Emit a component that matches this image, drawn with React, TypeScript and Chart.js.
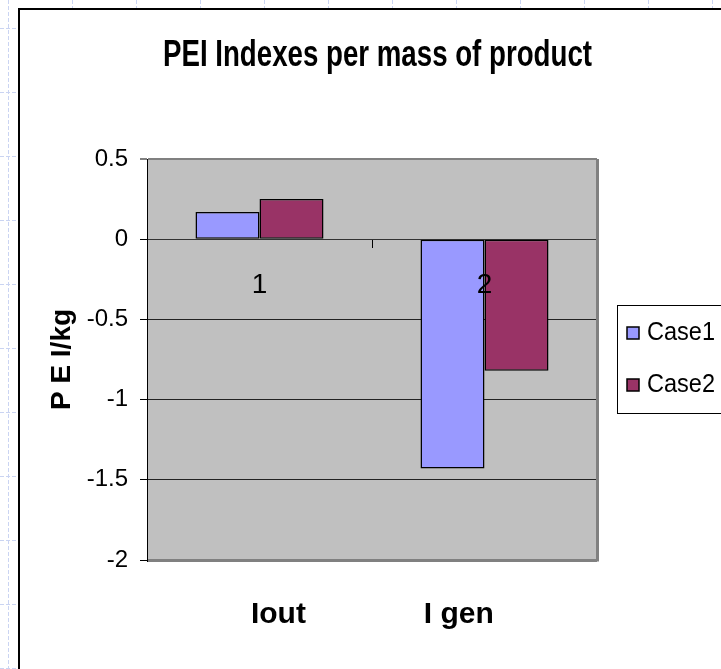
import React, { useEffect, useRef } from 'react';
import { Chart, registerables } from 'chart.js';

Chart.register(...registerables);

// ---- data ----
const CATEGORIES = ['1', '2'];
const INDEX_LABELS = ['Iout', 'I gen'];
const SERIES_NAMES = ['Case1', 'Case2'];
const CASE1 = [0.17, -1.43];
const CASE2 = [0.25, -0.82];
const Y_MIN = -2;
const Y_MAX = 0.5;
const Y_STEP = 0.5;
const TITLE = 'PEI Indexes per mass of product';
const Y_TITLE = 'P E I/kg';

// ---- styles ----
const FONT = '"Liberation Sans", Arial, sans-serif';
const COLORS = ['#9999ff', '#993366'];
const INDEX_LABEL_POS = [0.292, 0.693]; // fraction across the plot area

const decor = {
  id: 'decor',
  afterLayout(chart: any) {
    // narrow the title box so the title text is condensed like the original
    const t = chart.titleBlock;
    if (t) {
      t.left = 163;
      t.right = 592;
      t.width = 429;
    }
  },
  beforeDraw(chart: any) {
    const { ctx, width, height, chartArea: a } = chart;
    ctx.save();
    ctx.fillStyle = '#ffffff';
    ctx.fillRect(0, 0, width, height);
    // slide background grid
    ctx.strokeStyle = '#cad4f2';
    ctx.lineWidth = 1;
    ctx.setLineDash([4, 2]);
    for (let x = 8.5; x < width; x += 64) {
      ctx.beginPath();
      ctx.moveTo(x, 0);
      ctx.lineTo(x, height);
      ctx.stroke();
    }
    for (let y = 28.5; y < height; y += 64) {
      ctx.beginPath();
      ctx.moveTo(0, y);
      ctx.lineTo(width, y);
      ctx.stroke();
    }
    ctx.setLineDash([]);
    // chart frame
    ctx.fillStyle = '#ffffff';
    ctx.fillRect(19, 9, width, height);
    ctx.strokeStyle = '#000000';
    ctx.lineWidth = 2;
    ctx.beginPath();
    ctx.moveTo(19, height + 2);
    ctx.lineTo(19, 9);
    ctx.lineTo(width + 2, 9);
    ctx.stroke();
    // plot area
    ctx.fillStyle = '#c0c0c0';
    ctx.fillRect(a.left, a.top, a.right - a.left, a.bottom - a.top);
    ctx.restore();
  },
  afterDraw(chart: any) {
    const { ctx, chartArea: a } = chart;
    ctx.save();
    // right plot border
    ctx.strokeStyle = '#808080';
    ctx.lineWidth = 3;
    ctx.beginPath();
    ctx.moveTo(a.right + 0.5, a.top);
    ctx.lineTo(a.right + 0.5, a.bottom + 1.5);
    ctx.stroke();
    // legend
    const lx = 617.5;
    const ly = 305.5;
    ctx.fillStyle = '#ffffff';
    ctx.fillRect(lx, ly, 140, 108);
    ctx.strokeStyle = '#000000';
    ctx.lineWidth = 1;
    ctx.strokeRect(lx, ly, 140, 108);
    chart.data.datasets.forEach((ds: any, i: number) => {
      const cy = 333 + i * 52;
      ctx.fillStyle = ds.backgroundColor;
      ctx.fillRect(627, cy - 6, 12, 12);
      ctx.strokeStyle = '#000000';
      ctx.lineWidth = 1.5;
      ctx.strokeRect(627, cy - 6, 12, 12);
      ctx.fillStyle = '#000000';
      ctx.font = `25px ${FONT}`;
      ctx.textBaseline = 'middle';
      ctx.textAlign = 'left';
      ctx.fillText(ds.label, 647, cy, 68);
    });
    ctx.restore();
  },
};

export default function App() {
  const ref = useRef<HTMLCanvasElement | null>(null);

  useEffect(() => {
    if (!ref.current) return;
    const chart = new Chart(ref.current, {
      type: 'bar',
      data: {
        labels: CATEGORIES,
        datasets: [
          {
            label: SERIES_NAMES[0],
            data: CASE1,
            backgroundColor: COLORS[0],
            borderColor: '#000000',
            borderWidth: 1.5,
            borderSkipped: false,
            categoryPercentage: 0.569,
            barPercentage: 1,
            xAxisID: 'x',
            yAxisID: 'y',
          },
          {
            label: SERIES_NAMES[1],
            data: CASE2,
            backgroundColor: COLORS[1],
            borderColor: '#000000',
            borderWidth: 1.5,
            borderSkipped: false,
            categoryPercentage: 0.569,
            barPercentage: 1,
            xAxisID: 'x',
            yAxisID: 'y',
          },
        ],
      },
      options: {
        animation: false,
        responsive: true,
        maintainAspectRatio: false,
        layout: { padding: { left: 0, right: 124, top: 0, bottom: 0 } },
        plugins: {
          legend: { display: false },
          tooltip: { enabled: false },
          title: {
            display: true,
            text: TITLE,
            fullSize: false,
            color: '#000000',
            font: { family: FONT, size: 36, weight: 'bold' },
            padding: { top: 34.4, bottom: 81.4 },
          },
        },
        scales: {
          x: {
            type: 'category',
            position: { y: 0 },
            offset: true,
            grid: {
              offset: true,
              drawOnChartArea: false,
              drawTicks: true,
              tickLength: 8,
              color: '#000000',
            },
            border: { display: true, color: '#333333', width: 1 },
            ticks: {
              z: 1,
              color: '#000000',
              padding: 21,
              font: { family: FONT, size: 28 },
            },
          },
          x2: {
            type: 'linear',
            position: 'bottom',
            min: 0,
            max: 1,
            offset: false,
            afterBuildTicks: (s: any) => {
              s.ticks = INDEX_LABEL_POS.map((v) => ({ value: v }));
            },
            afterFit: (s: any) => {
              s.height = 109;
            },
            grid: { display: false, drawTicks: false, offset: false },
            border: { display: false },
            ticks: {
              autoSkip: false,
              maxRotation: 0,
              padding: 37,
              color: '#000000',
              font: { family: FONT, size: 30, weight: 'bold' },
              callback: (_v: any, i: number) => INDEX_LABELS[i],
            },
          },
          y: {
            type: 'linear',
            position: 'left',
            min: Y_MIN,
            max: Y_MAX,
            afterFit: (s: any) => {
              s.width = 147;
            },
            ticks: {
              stepSize: Y_STEP,
              padding: 12,
              color: '#000000',
              font: { family: FONT, size: 24 },
              callback: (v: any) => String(v),
            },
            grid: {
              color: (c: any) => {
                const v = c.tick ? c.tick.value : 0;
                return v === Y_MAX || v === Y_MIN ? '#808080' : '#222222';
              },
              lineWidth: (c: any) => {
                const v = c.tick ? c.tick.value : 0;
                if (v === Y_MAX) return 2;
                if (v === Y_MIN) return 3;
                return 1;
              },
              tickLength: 7,
              tickColor: '#000000',
              tickWidth: 1,
            },
            border: { color: '#000000', width: 1 },
            title: {
              display: true,
              text: Y_TITLE,
              color: '#000000',
              font: { family: FONT, size: 28, weight: 'bold' },
              padding: { top: 45, bottom: 0 },
            },
          },
        },
      },
      plugins: [decor],
    });
    return () => chart.destroy();
  }, []);

  return (
    <div style={{ position: 'absolute', left: 0, top: 0, width: 721, height: 669 }}>
      <canvas ref={ref} />
    </div>
  );
}
